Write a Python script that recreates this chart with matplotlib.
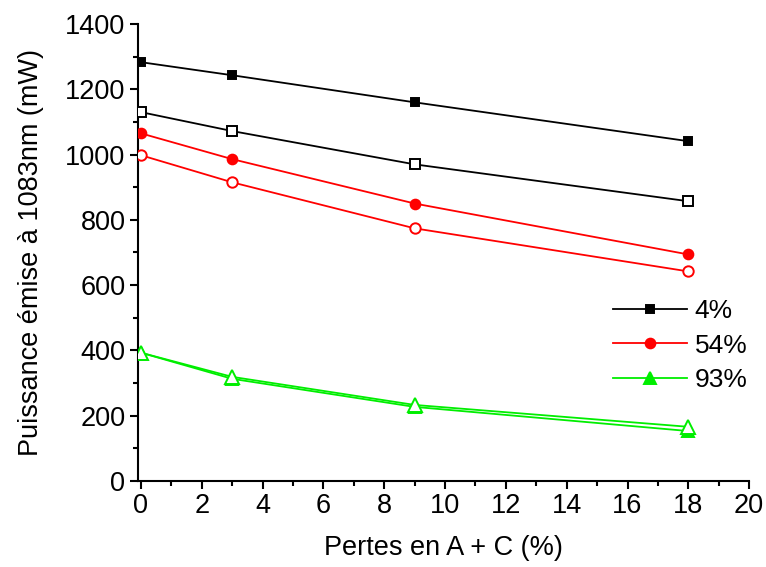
import matplotlib
matplotlib.use("Agg")
import matplotlib.pyplot as plt
from matplotlib.ticker import MultipleLocator

plt.rcParams['font.family'] = ['Liberation Sans', 'DejaVu Sans']

# pertes en A + C (%)
pertes = [0, 3, 9, 18]

# puissance emise (mW)
p4_plein = [1283, 1243, 1160, 1041]
p4_vide = [1130, 1072, 970, 857]
p54_plein = [1065, 986, 850, 694]
p54_vide = [998, 915, 774, 642]
p93_plein = [393, 313, 227, 153]
p93_vide = [393, 319, 233, 166]

fig = plt.figure(figsize=(7.66, 5.67), dpi=100)
ax = fig.add_axes([0.180, 0.1517, 0.798, 0.806])

lw = 1.3
green = '#00ee00'


def courbe(y, col, m, ms, plein, label=None):
    # ligne + petit blanc autour des marqueurs (style Origin)
    ax.plot(pertes, y, color=col, lw=lw, label=label, marker=m, ms=ms,
            mfc=col if plein else 'white', mec=col, mew=1.4, zorder=3)
    ax.plot(pertes, y, ls='none', marker=m, ms=ms + 4, mfc='white', mec='white', zorder=2.5)


courbe(p4_plein, 'black', 's', 6, True, '4%')
courbe(p4_vide, 'black', 's', 6.5, False)
courbe(p54_plein, 'red', 'o', 7, True, '54%')
courbe(p54_vide, 'red', 'o', 7.5, False)
courbe(p93_plein, green, '^', 9, True, '93%')
courbe(p93_vide, green, '^', 10, False)

ax.set_xlim(-0.1, 20)
ax.set_ylim(0, 1400)
ax.xaxis.set_major_locator(MultipleLocator(2))
ax.xaxis.set_minor_locator(MultipleLocator(1))
ax.yaxis.set_major_locator(MultipleLocator(200))
ax.yaxis.set_minor_locator(MultipleLocator(100))
ax.tick_params(which='major', direction='out', length=6, width=1.5, labelsize=19.5, pad=3)
ax.tick_params(which='minor', direction='out', length=3.5, width=1.5)
for s in ['top', 'right']:
    ax.spines[s].set_visible(False)
for s in ['left', 'bottom']:
    ax.spines[s].set_linewidth(1.5)

ax.set_xlabel('Pertes en A + C (%)', fontsize=19.5, labelpad=11)
ax.set_ylabel('Puissance émise à 1083nm (mW)', fontsize=19.5, labelpad=15)

ax.legend(loc='upper left', bbox_to_anchor=(0.738, 0.45), frameon=False, fontsize=19,
          handlelength=2.8, handletextpad=0.3, labelspacing=0.4, numpoints=1)

fig.savefig('out.png', dpi=100)
